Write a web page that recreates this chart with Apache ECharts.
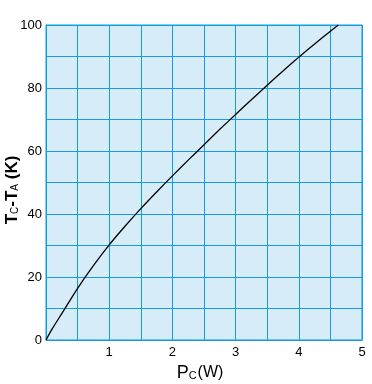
<!DOCTYPE html>
<html><head><meta charset="utf-8">
<script src="https://cdn.jsdelivr.net/npm/echarts@6/dist/echarts.min.js"></script>
<style>html,body{margin:0;padding:0;background:#fff}#c{width:372px;height:384px}</style>
</head><body><div id="c"></div>
<script>
const powerW = [0, 0.1, 0.25, 0.5, 0.75, 1.0, 1.25, 1.5, 1.75, 2.0, 2.25, 2.5, 2.75, 3.0, 3.25, 3.5, 3.75, 4.0, 4.25, 4.5, 4.625];
const deltaT = [0, 3.6, 8.4, 16.4, 23.6, 30.2, 36.1, 41.7, 47, 52.1, 57.1, 62.0, 66.9, 71.6, 76.3, 80.9, 85.4, 89.8, 94, 98, 100];
const xTicks = [1, 2, 3, 4, 5];
const yTicks = [0, 20, 40, 60, 80, 100];

const blue = '#119de0';
const font = 'Liberation Sans, Arial';
const chart = echarts.init(document.getElementById('c'));
chart.setOption({
  animation: false,
  grid: {left: 46, top: 25, width: 316, height: 315, outerBoundsMode: 'none', containLabel: false,
    show: true, backgroundColor: '#d6ecf9', borderColor: blue, borderWidth: 1},
  xAxis: {
    type: 'value', min: 0, max: 5, interval: 0.5,
    axisLine: {show: true, onZero: false, lineStyle: {color: blue, width: 1}},
    axisTick: {show: false},
    splitLine: {show: true, lineStyle: {color: blue, width: 1}},
    axisLabel: {color: '#000', fontSize: 13, fontFamily: font, margin: 6,
      formatter: v => xTicks.includes(v) ? String(v) : ''}
  },
  yAxis: {
    type: 'value', min: 0, max: 100, interval: 10,
    axisLine: {show: true, lineStyle: {color: blue, width: 1}},
    axisTick: {show: false},
    splitLine: {show: true, lineStyle: {color: blue, width: 1}},
    axisLabel: {color: '#000', fontSize: 13, fontFamily: font, margin: 4,
      formatter: v => yTicks.includes(v) ? String(v) : ''}
  },
  graphic: [
    {type: 'text', x: 200, y: 373, style: {
      text: '{p|P}{s|C}{w|(W)}', align: 'center', verticalAlign: 'middle',
      rich: {
        p: {fontSize: 18, fontFamily: font, fill: '#000'},
        s: {fontSize: 11, fontFamily: font, fill: '#000', padding: [6, 1, 0, 0]},
        w: {fontSize: 16, fontFamily: font, fill: '#000'}
      }}},
    {type: 'text', x: 12, y: 190, rotation: Math.PI / 2, style: {
      text: '{p|T}{s|C}{p|-T}{s|A}{w| (K)}', align: 'center', verticalAlign: 'middle',
      rich: {
        p: {fontSize: 17, fontWeight: 'bold', fontFamily: font, fill: '#000'},
        s: {fontSize: 10, fontFamily: font, fill: '#000', padding: [6, 0, 0, 0]},
        w: {fontSize: 17, fontWeight: 'bold', fontFamily: font, fill: '#000'}
      }}}
  ],
  series: [{
    type: 'line', smooth: 0.2, symbol: 'none',
    lineStyle: {color: '#000', width: 1.3},
    data: powerW.map((x, i) => [x, deltaT[i]])
  }]
});
</script></body></html>
